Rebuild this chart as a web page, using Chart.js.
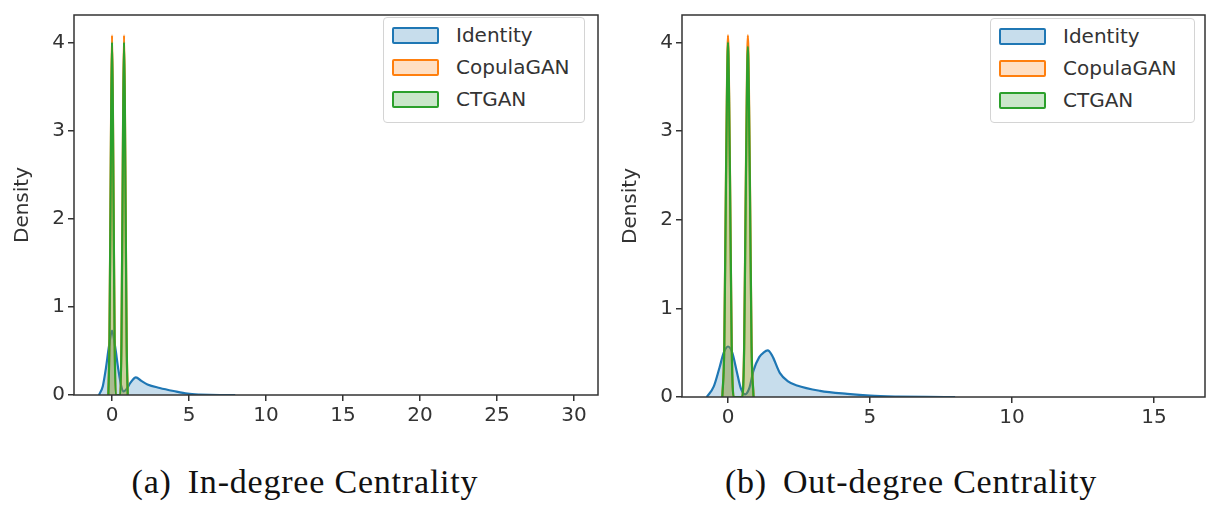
<!DOCTYPE html>
<html>
<head>
<meta charset="utf-8">
<script src="https://cdn.jsdelivr.net/npm/chart.js@4"></script>
<style>
  body { margin: 0; background: #fff; width: 1211px; height: 505px; position: relative; overflow: hidden; }
  canvas { position: absolute; top: 0; }
  #left { left: 0; }
  #right { left: 608px; }
  .legend {
    position: absolute; background: #fff; border: 1px solid #d4d4d4; border-radius: 4px;
    box-sizing: border-box; padding-top: 1px;
    font-family: "DejaVu Sans", sans-serif; font-size: 20px; color: #333;
  }
  .legend .row { height: 32px; display: flex; align-items: center; }
  .legend .patch { width: 43px; height: 13px; margin-left: 8px; margin-right: 17px; border: 2px solid; border-radius: 2px; }
  .caption {
    position: absolute; top: 463px; font-family: "Liberation Serif", "DejaVu Serif", serif;
    font-size: 34px; letter-spacing: 0.8px; color: #111; white-space: nowrap; transform: translateX(-50%);
  }
  .caption span { margin-right: 16px; }
</style>
</head>
<body>
<canvas id="left" width="610" height="440"></canvas>
<canvas id="right" width="603" height="440"></canvas>
<div class="legend" id="legLeft" style="left:383px; top:17px; width:202px; height:106px;"></div>
<div class="legend" id="legRight" style="left:990px; top:18px; width:205px; height:105px;"></div>
<div class="caption" style="left:305px;"><span>(a)</span>In-degree Centrality</div>
<div class="caption" style="left:911px;"><span>(b)</span>Out-degree Centrality</div>

<script>
const seriesNames = ['Identity', 'CopulaGAN', 'CTGAN'];
const lineColors = ['#1f77b4', '#ff7f0e', '#2ca02c'];
const fillColors = ['rgba(31,119,180,0.25)', 'rgba(255,127,14,0.25)', 'rgba(44,160,44,0.25)'];

// (a) in-degree
const inIdentityX = [-0.85, -0.6, -0.4, -0.2, 0, 0.2, 0.4, 0.6, 0.75, 0.95, 1.2, 1.55, 1.9, 2.3, 3.1, 4.0, 4.9, 5.7, 7, 8];
const inIdentityY = [0, 0.1, 0.3, 0.55, 0.73, 0.55, 0.3, 0.1, 0.04, 0.07, 0.14, 0.2, 0.16, 0.12, 0.08, 0.045, 0.015, 0.005, 0, 0];
const inSpikeX = [-0.24, -0.17, -0.1, -0.05, 0, 0.05, 0.1, 0.17, 0.24, 0.54, 0.61, 0.68, 0.73, 0.78, 0.83, 0.88, 0.95, 1.02];
const inCopula = [0, 0.6, 2.2, 3.4, 4.08, 3.4, 2.2, 0.6, 0, 0, 0.6, 2.2, 3.4, 4.08, 3.4, 2.2, 0.6, 0];
const inCtgan = [0, 0.58, 2.15, 3.33, 4.0, 3.33, 2.15, 0.58, 0, 0, 0.58, 2.15, 3.33, 4.0, 3.33, 2.15, 0.58, 0];
const inTicksX = [0, 5, 10, 15, 20, 25, 30];

// (b) out-degree
const outIdentityX = [-0.75, -0.5, -0.3, -0.15, 0, 0.15, 0.3, 0.45, 0.6, 0.75, 0.9, 1.1, 1.25, 1.4, 1.55, 1.83, 2.1, 2.43, 3.24, 4.2, 5, 6, 7, 8];
const outIdentityY = [0, 0.12, 0.33, 0.5, 0.57, 0.5, 0.3, 0.1, 0.03, 0.1, 0.3, 0.45, 0.5, 0.525, 0.47, 0.27, 0.18, 0.13, 0.07, 0.035, 0.015, 0.005, 0.001, 0];
const outSpikeX = [-0.2, -0.13, -0.08, -0.04, 0, 0.04, 0.08, 0.13, 0.2, 0.5, 0.57, 0.62, 0.66, 0.7, 0.74, 0.78, 0.83, 0.9];
const outCopula = [0, 0.6, 2.2, 3.4, 4.08, 3.4, 2.2, 0.6, 0, 0, 0.6, 2.2, 3.4, 4.08, 3.4, 2.2, 0.6, 0];
const outCtgan = [0, 0.58, 2.15, 3.33, 4.0, 3.33, 2.15, 0.58, 0, 0, 0.57, 2.12, 3.28, 3.95, 3.28, 2.12, 0.57, 0];
const outTicksX = [0, 5, 10, 15];

const ticksY = [0, 1, 2, 3, 4];

const tickFont = { family: 'DejaVu Sans', size: 20 };
const ink = '#333';

function pts(xs, ys) {
  return xs.map((x, i) => ({ x: x, y: ys[i] }));
}

function makeDataset(i, data) {
  return {
    label: seriesNames[i],
    data: data,
    borderColor: lineColors[i],
    backgroundColor: fillColors[i],
    borderWidth: 2.2,
    fill: 'origin',
    pointRadius: 0,
    cubicInterpolationMode: 'monotone',
    order: 3 - i
  };
}

const frame = {
  id: 'frame',
  afterDraw(chart) {
    const a = chart.chartArea;
    const c = chart.ctx;
    c.save();
    c.strokeStyle = ink;
    c.lineWidth = 1.5;
    c.strokeRect(a.left, a.top, a.right - a.left, a.bottom - a.top);
    c.restore();
  }
};

function makeChart(id, datasets, xMin, xMax, xTicks, padRight, xHeight) {
  return new Chart(document.getElementById(id), {
    type: 'line',
    data: { datasets: datasets },
    plugins: [frame],
    options: {
      responsive: false,
      devicePixelRatio: 1,
      animation: false,
      layout: { padding: { left: 0, top: 4, right: padRight, bottom: 0 } },
      plugins: { legend: { display: false }, tooltip: { enabled: false } },
      scales: {
        x: {
          type: 'linear', min: xMin, max: xMax,
          afterFit: s => { s.height = xHeight; },
          afterBuildTicks: s => { s.ticks = xTicks.map(v => ({ value: v })); },
          border: { display: false },
          grid: { drawOnChartArea: false, drawTicks: true, tickLength: 6, color: ink, lineWidth: 1.5 },
          ticks: { font: tickFont, color: ink, padding: 3, maxRotation: 0 }
        },
        y: {
          min: 0, max: 4.31,
          afterFit: s => { s.width = 74; },
          afterBuildTicks: s => { s.ticks = ticksY.map(v => ({ value: v })); },
          border: { display: false },
          grid: { drawOnChartArea: false, drawTicks: true, tickLength: 6, color: ink, lineWidth: 1.5 },
          ticks: { font: tickFont, color: ink, padding: 3 },
          title: { display: true, text: 'Density', font: tickFont, color: ink, padding: { top: 11, bottom: 0 } }
        }
      }
    }
  });
}

makeChart('left', [
  makeDataset(0, pts(inIdentityX, inIdentityY)),
  makeDataset(1, pts(inSpikeX, inCopula)),
  makeDataset(2, pts(inSpikeX, inCtgan))
], -2.47, 31.56, inTicksX, 12, 45);

makeChart('right', [
  makeDataset(0, pts(outIdentityX, outIdentityY)),
  makeDataset(1, pts(outSpikeX, outCopula)),
  makeDataset(2, pts(outSpikeX, outCtgan))
], -1.62, 16.8, outTicksX, 6, 43);

function buildLegend(id) {
  const box = document.getElementById(id);
  seriesNames.forEach((name, i) => {
    const row = document.createElement('div');
    row.className = 'row';
    const patch = document.createElement('div');
    patch.className = 'patch';
    patch.style.borderColor = lineColors[i];
    patch.style.background = fillColors[i];
    const label = document.createElement('span');
    label.textContent = name;
    row.appendChild(patch);
    row.appendChild(label);
    box.appendChild(row);
  });
}
buildLegend('legLeft');
buildLegend('legRight');
</script>
</body>
</html>
